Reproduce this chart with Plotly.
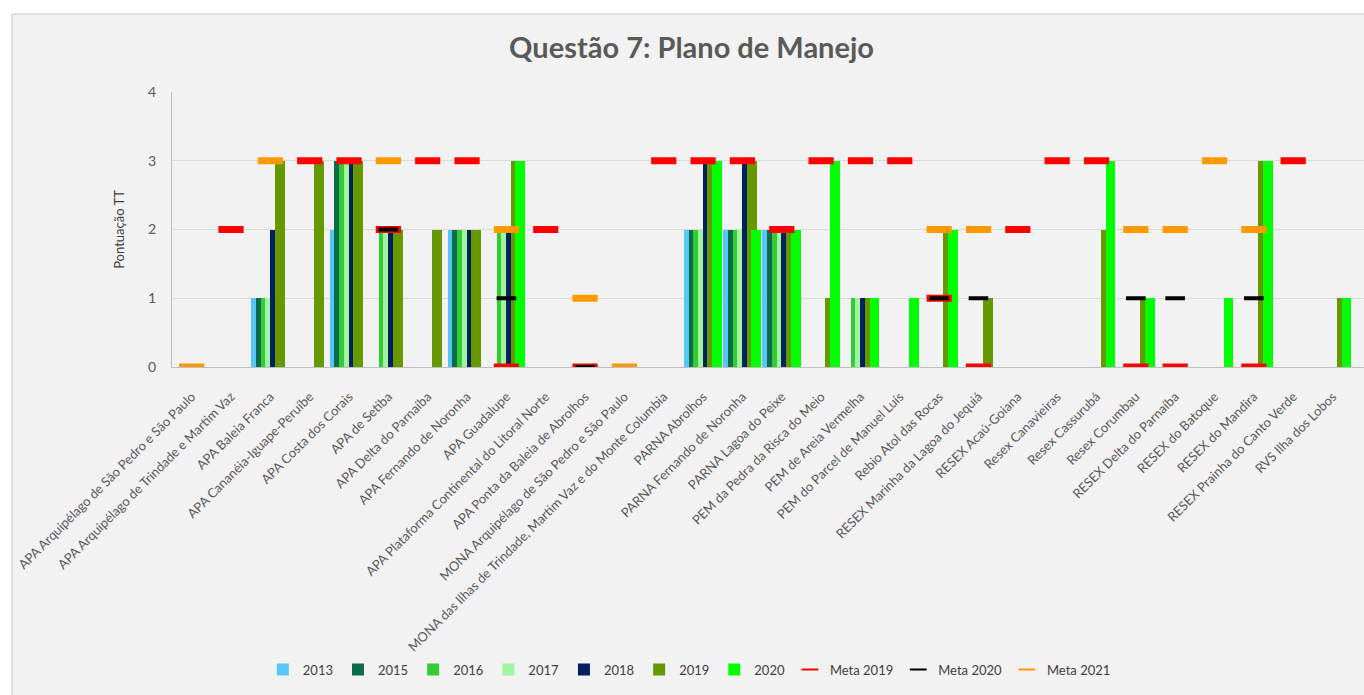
import plotly.graph_objects as go

N = None

categories = [
    "APA Arquipélago de São Pedro e São Paulo",
    "APA Arquipélago de Trindade e Martim Vaz",
    "APA Baleia Franca",
    "APA Cananéia-Iguape-Peruíbe",
    "APA Costa dos Corais",
    "APA de Setiba",
    "APA Delta do Parnaíba",
    "APA Fernando de Noronha",
    "APA Guadalupe",
    "APA Plataforma Continental do Litoral Norte",
    "APA Ponta da Baleia de Abrolhos",
    "MONA Arquipélago de São Pedro e São Paulo",
    "MONA das Ilhas de Trindade, Martim Vaz e do Monte Columbia",
    "PARNA Abrolhos",
    "PARNA Fernando de Noronha",
    "PARNA Lagoa do Peixe",
    "PEM da Pedra da Risca do Meio",
    "PEM de Areia Vermelha",
    "PEM do Parcel de Manuel Luís",
    "Rebio Atol das Rocas",
    "RESEX Marinha da Lagoa do Jequiá",
    "RESEX Acaú-Goiana",
    "Resex Canavieiras",
    "Resex Cassurubá",
    "Resex Corumbau",
    "RESEX Delta do Parnaíba",
    "RESEX do Batoque",
    "RESEX do Mandira",
    "RESEX Prainha do Canto Verde",
    "RVS Ilha dos Lobos",
]

v2013 = [N, N, 1, N, 2, N, N, 2, N, N,  N, N, N, 2, 2, 2, N, N, N, N,  N, N, N, N, N, N, N, N, N, N]
v2015 = [N, N, 1, N, 3, N, N, 2, N, N,  N, N, N, 2, 2, 2, N, N, N, N,  N, N, N, N, N, N, N, N, N, N]
v2016 = [N, N, 1, N, 3, 2, N, 2, 2, N,  N, N, N, 2, 2, 2, N, 1, N, N,  N, N, N, N, N, N, N, N, N, N]
v2017 = [N, N, 1, N, 3, 2, N, 2, 2, N,  N, N, N, 2, 2, 2, N, 1, N, N,  N, N, N, N, N, N, N, N, N, N]
v2018 = [N, N, 2, N, 3, 2, N, 2, 2, N,  N, N, N, 3, 3, 2, N, 1, N, N,  N, N, N, N, N, N, N, N, N, N]
v2019 = [N, N, 3, 3, 3, 2, 2, 2, 3, N,  N, N, N, 3, 3, 2, 1, 1, N, 2,  1, N, N, 2, 1, N, N, 3, N, 1]
v2020 = [N, N, N, N, N, N, N, N, 3, N,  N, N, N, 3, 2, 2, 3, 1, 1, 2,  N, N, N, 3, 1, N, 1, 3, N, 1]

meta2019 = [N, 2, N, 3, 3, 2, 3, 3, 0, 2,  0, N, 3, 3, 3, 2, 3, 3, 3, 1,  0, 2, 3, 3, 0, 0, N, 0, 3, N]
meta2020 = [N, N, N, N, N, 2, N, N, 1, N,  0, N, N, N, N, N, N, N, N, 1,  1, N, N, N, 1, 1, N, 1, N, N]
meta2021 = [0, N, 3, N, N, 3, N, N, 2, N,  1, 0, N, N, N, N, N, N, N, 2,  2, N, N, N, 2, 2, 3, 2, N, N]

bar_names = ["2013", "2015", "2016", "2017", "2018", "2019", "2020"]
bar_values = [v2013, v2015, v2016, v2017, v2018, v2019, v2020]
bar_colors = ["#55c6f5", "#0b6b4b", "#33cc33", "#a0f5a0", "#002060", "#669900", "#00ff00"]

meta_names = ["Meta 2019", "Meta 2020", "Meta 2021"]
meta_values = [meta2019, meta2020, meta2021]
meta_colors = ["#ff0000", "#000000", "#ff9900"]
meta_sizes = [18, 14, 18]
meta_widths = [7, 4, 7]

FONT = "Lato"

fig = go.Figure()

for i, (name, vals, col) in enumerate(zip(bar_names, bar_values, bar_colors)):
    fig.add_trace(go.Bar(
        x=categories, y=vals, name=name,
        marker=dict(color=col, line=dict(width=0)),
        width=0.25, offset=-0.49 + i * 0.12,
    ))

for name, vals, col, sz, lw in zip(meta_names, meta_values, meta_colors, meta_sizes, meta_widths):
    fig.add_trace(go.Scatter(
        x=categories, y=vals, name=name, mode="markers",
        marker=dict(symbol="line-ew", size=sz, color=col, line=dict(color=col, width=lw)),
    ))

fig.update_layout(
    width=1364, height=695,
    barmode="overlay", bargap=0,
    paper_bgcolor="white", plot_bgcolor="rgba(0,0,0,0)",
    margin=dict(l=172, r=0, t=92, b=328, autoexpand=False),
    font=dict(family=FONT, color="#595959"),
    title=dict(text="Questão 7: Plano de Manejo", x=0.507, y=0.931, xanchor="center", yanchor="middle",
               font=dict(family=FONT, size=29, color="#595959", weight="bold")),
    xaxis=dict(type="category", range=[-0.5, 29.8], tickangle=-45, showgrid=False,
               showline=True, linecolor="#bfbfbf", ticks="", ticklabelstandoff=16,
               tickfont=dict(family=FONT, size=13, color="#595959"), automargin=False),
    yaxis=dict(range=[0, 4], dtick=1, showgrid=True, gridcolor="#d9d9d9", zeroline=False,
               showline=True, linecolor="#bfbfbf", ticks="", ticklabelstandoff=12,
               tickfont=dict(family=FONT, size=14, color="#595959"), automargin=False,
               title=dict(text="Pontuação TT", font=dict(family=FONT, size=13, color="#404040"), standoff=20)),
    legend=dict(orientation="h", x=0.434, xanchor="center", y=-1.10, yanchor="middle",
                font=dict(family=FONT, size=13, color="#404040"), itemsizing="constant",
                itemwidth=30, bgcolor="rgba(0,0,0,0)", traceorder="normal"),
    shapes=[dict(type="rect", xref="paper", yref="paper", x0=-0.1342, y0=-1.3, x1=1.05, y1=1.2836,
                 fillcolor="#f2f2f2", line=dict(color="#c8c8c8", width=1), layer="below")],
)

fig.write_html("out.html", config={"displayModeBar": False},
               post_script="document.body.style.margin='0';")
